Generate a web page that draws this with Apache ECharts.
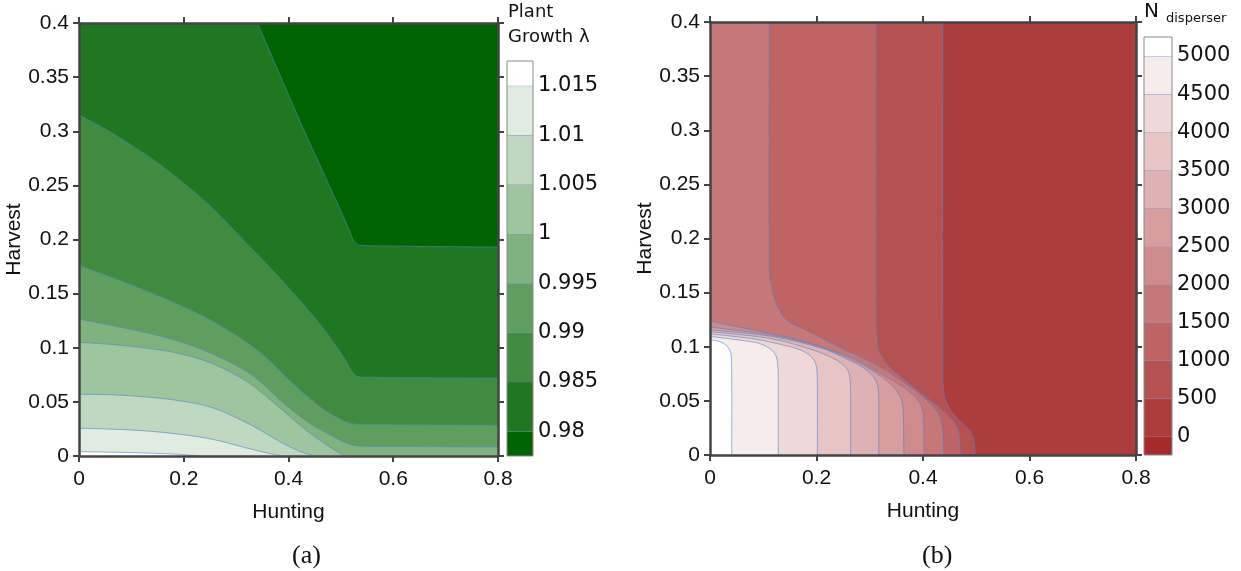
<!DOCTYPE html>
<html><head><meta charset="utf-8">
<script src="https://cdn.jsdelivr.net/npm/echarts@6/dist/echarts.min.js"></script>
<style>html,body{margin:0;padding:0;background:#fff}#c{width:1241px;height:571px}</style>
</head><body><div id="c"></div>
<script>
// ---------- data ----------
const huntingTicks = [0, 0.2, 0.4, 0.6, 0.8];
const harvestTicks = [0, 0.05, 0.1, 0.15, 0.2, 0.25, 0.3, 0.35, 0.4];

const growthLevels = [0.98, 0.985, 0.99, 0.995, 1, 1.005, 1.01, 1.015];
const growthLabels = ['0.98', '0.985', '0.99', '0.995', '1', '1.005', '1.01', '1.015'];
const disperserLevels = [0, 500, 1000, 1500, 2000, 2500, 3000, 3500, 4000, 4500, 5000];
const disperserLabels = ['0', '500', '1000', '1500', '2000', '2500', '3000', '3500', '4000', '4500', '5000'];

// contour lines of plant growth lambda, [hunting, harvest]
const growth0980 = [[0.341,0.4],[0.38,0.356],[0.423,0.308],[0.47,0.258],[0.505,0.221],[0.518,0.206],[0.526,0.198],[0.536,0.1948],[0.56,0.1942],[0.8,0.193]];
const growth0985 = [[0,0.315],[0.05,0.302],[0.105,0.2855],[0.15,0.2707],[0.188,0.2566],[0.23,0.2398],[0.264,0.2245],[0.289,0.212],[0.323,0.195],[0.356,0.1785],[0.385,0.1634],[0.413,0.1483],[0.442,0.1323],[0.47,0.1155],[0.495,0.0985],[0.51,0.0875],[0.52,0.079],[0.53,0.0738],[0.55,0.0727],[0.8,0.0718]];
const growth0990 = [[0,0.176],[0.063,0.165],[0.127,0.153],[0.19,0.14],[0.254,0.125],[0.317,0.106],[0.35,0.094],[0.381,0.08],[0.413,0.065],[0.444,0.052],[0.47,0.042],[0.495,0.035],[0.512,0.031],[0.527,0.0295],[0.55,0.029],[0.8,0.0285]];
const growth0995 = [[0,0.1265],[0.063,0.1205],[0.127,0.114],[0.19,0.106],[0.254,0.0945],[0.317,0.079],[0.35,0.067],[0.381,0.053],[0.413,0.04],[0.444,0.029],[0.483,0.0185],[0.508,0.0125],[0.525,0.0098],[0.55,0.009],[0.8,0.0085]];
const growth1000 = [[0,0.105],[0.063,0.103],[0.127,0.0997],[0.19,0.0948],[0.254,0.0855],[0.317,0.07],[0.35,0.058],[0.381,0.0455],[0.413,0.032],[0.444,0.02],[0.475,0.0095],[0.495,0.0035],[0.506,0]];
const growth1005 = [[0,0.0571],[0.063,0.0565],[0.127,0.0546],[0.19,0.0512],[0.254,0.0448],[0.317,0.0315],[0.35,0.0228],[0.381,0.014],[0.419,0.0048],[0.45,0]];
const growth1010 = [[0,0.0256],[0.063,0.0248],[0.127,0.0232],[0.19,0.0202],[0.254,0.0155],[0.317,0.0078],[0.36,0.0027],[0.388,0]];
const growth1015 = [[0,0.004],[0.095,0.0032],[0.19,0.0016],[0.23,0]];

// contour lines of disperser abundance, [hunting, harvest]
const disp0500 = [[0.437,0.4],[0.437,0.075],[0.438,0.062],[0.441,0.0534],[0.448,0.045],[0.457,0.038],[0.47,0.031],[0.482,0.0257],[0.491,0.02],[0.4955,0.013],[0.4975,0.005],[0.498,0]];
const disp1000 = [[0.312,0.4],[0.312,0.125],[0.313,0.11],[0.316,0.0996],[0.322,0.091],[0.332,0.0843],[0.346,0.077],[0.363,0.0705],[0.382,0.0625],[0.40,0.0555],[0.418,0.049],[0.432,0.043],[0.446,0.037],[0.457,0.031],[0.464,0.026],[0.468,0.019],[0.4695,0.008],[0.47,0]];
const disp1500 = [[0.111,0.4],[0.111,0.18],[0.112,0.166],[0.116,0.154],[0.122,0.143],[0.13,0.134],[0.141,0.126],[0.155,0.121],[0.166,0.1185],[0.19,0.113],[0.21,0.1078],[0.254,0.097],[0.3,0.0865],[0.338,0.0755],[0.376,0.063],[0.395,0.056],[0.41,0.0495],[0.425,0.041],[0.433,0.033],[0.437,0.024],[0.438,0.01],[0.4385,0]];
const disp2000 = [[0,0.1237],[0.05,0.1185],[0.116,0.112],[0.178,0.1045],[0.241,0.0945],[0.27,0.089],[0.3,0.081],[0.33,0.0725],[0.36,0.0635],[0.38,0.056],[0.393,0.049],[0.399,0.042],[0.401,0.032],[0.402,0]];
const disp2500 = [[0,0.1181],[0.116,0.1107],[0.2,0.101],[0.241,0.0935],[0.275,0.086],[0.3,0.0795],[0.323,0.072],[0.342,0.064],[0.355,0.056],[0.361,0.048],[0.363,0.038],[0.364,0]];
const disp3000 = [[0,0.1156],[0.116,0.1095],[0.21,0.0985],[0.26,0.088],[0.285,0.0815],[0.302,0.075],[0.312,0.068],[0.316,0.06],[0.317,0.05],[0.317,0]];
const disp3500 = [[0,0.1138],[0.116,0.1074],[0.19,0.0975],[0.22,0.092],[0.24,0.087],[0.253,0.082],[0.26,0.077],[0.263,0.07],[0.264,0.06],[0.264,0]];
const disp4000 = [[0,0.1119],[0.085,0.107],[0.147,0.1005],[0.17,0.097],[0.185,0.093],[0.195,0.088],[0.2,0.081],[0.2015,0.072],[0.2016,0]];
const disp4500 = [[0,0.1095],[0.085,0.104],[0.105,0.1005],[0.117,0.0965],[0.124,0.0915],[0.127,0.084],[0.128,0.075],[0.128,0]];
const disp5000 = [[0,0.1064],[0.015,0.1053],[0.026,0.103],[0.034,0.0995],[0.039,0.0945],[0.0405,0.088],[0.0407,0]];

const growthLines = [growth0980, growth0985, growth0990, growth0995, growth1000, growth1005, growth1010, growth1015];
const disperserLines = [disp0500, disp1000, disp1500, disp2000, disp2500, disp3000, disp3500, disp4000, disp4500, disp5000];

// ---------- styles ----------
const greenBands = ['#006400','#207720','#408b40','#609e60','#80b280','#9fc59f','#bfd8bf','#dfecdf','#ffffff'];
const redBands = ['#a52a2a','#ad3d3d','#b55151','#be6464','#c67878','#ce8b8b','#d69e9e','#deb2b2','#e7c5c5','#efd8d8','#f7ecec','#ffffff'];
const lineColor = 'rgba(80,130,205,0.6)';
const axisColor = '#444';
const SMOOTH = 0.35;
const XMIN = huntingTicks[0], XMAX = huntingTicks[huntingTicks.length - 1];
const YMIN = harvestTicks[0], YMAX = harvestTicks[harvestTicks.length - 1];
const CBA = [0.9775, 1.0175];
const CBB = [-240, 5250];

// corners are doubled so the smoothing keeps them sharp
function regionPolygon(b) {
  const poly = [];
  const add2 = p => { poly.push(p); poly.push(p); };
  add2([XMIN, YMIN]);
  if (b[0][0] > XMIN) add2([XMIN, b[0][1]]);
  add2(b[0]);
  for (let i = 1; i < b.length - 1; i++) poly.push(b[i]);
  const last = b[b.length - 1];
  add2(last);
  if (last[1] > YMIN) add2([last[0], YMIN]);
  return poly;
}

function contourRender(lines, fills) {
  return function (params, api) {
    const b = lines[params.dataIndex];
    return {
      type: 'group',
      children: [
        { type: 'polygon', shape: { points: regionPolygon(b).map(p => api.coord(p)), smooth: SMOOTH },
          style: { fill: fills[params.dataIndex] } },
        { type: 'polyline', shape: { points: b.map(p => api.coord(p)), smooth: SMOOTH },
          style: { stroke: lineColor, lineWidth: 1, fill: null } }
      ]
    };
  };
}

function colorbarRender(levels, colors, ext) {
  return function (params, api) {
    const i = params.dataIndex;
    const lo = i === 0 ? ext[0] : levels[i - 1];
    const hi = i === levels.length ? ext[1] : levels[i];
    const p0 = api.coord([0, lo]), p1 = api.coord([1, hi]);
    const children = [{ type: 'rect', shape: { x: p0[0], y: p1[1], width: p1[0] - p0[0], height: p0[1] - p1[1] }, style: { fill: colors[i] } }];
    if (i < levels.length) children.push({ type: 'line', shape: { x1: p0[0], y1: p1[1], x2: p1[0], y2: p1[1] }, style: { stroke: lineColor, lineWidth: 1 } });
    return { type: 'group', children };
  };
}

function frameRender(ext) {
  return function (params, api) {
    const p0 = api.coord([0, ext[0]]), p1 = api.coord([1, ext[1]]);
    return { type: 'rect', shape: { x: p0[0], y: p1[1], width: p1[0] - p0[0], height: p0[1] - p1[1] }, style: { fill: null, stroke: '#8a8a8a', lineWidth: 1 } };
  };
}

const tickFont = { fontFamily: 'Liberation Sans', fontSize: 21, color: '#111' };
const nameFont = { fontFamily: 'Liberation Sans', fontSize: 21, color: '#111' };
function mainX(gridIndex, pos, labels) {
  return {
    gridIndex, position: pos, type: 'value', min: XMIN, max: XMAX, interval: huntingTicks[1] - huntingTicks[0], z: 10,
    name: labels ? 'Hunting' : '', nameLocation: 'middle', nameGap: 46, nameTextStyle: nameFont,
    axisLine: { show: true, onZero: false, lineStyle: { color: axisColor, width: 2.5 } },
    axisTick: { show: true, inside: false, length: 6, lineStyle: { color: axisColor, width: 2 } },
    axisLabel: Object.assign({ show: labels, margin: 13 }, tickFont),
    splitLine: { show: false }
  };
}
function mainY(gridIndex, pos, labels) {
  return {
    gridIndex, position: pos, type: 'value', min: YMIN, max: YMAX, interval: harvestTicks[1] - harvestTicks[0], z: 10,
    name: labels ? 'Harvest' : '', nameLocation: 'middle', nameGap: 41, nameTextStyle: nameFont,
    axisLine: { show: true, onZero: false, lineStyle: { color: axisColor, width: 2.5 } },
    axisTick: { show: true, inside: false, length: 6, lineStyle: { color: axisColor, width: 2 } },
    axisLabel: Object.assign({ show: labels, margin: 10 }, tickFont),
    splitLine: { show: false }
  };
}
function cbarX(gridIndex) {
  return { gridIndex, type: 'value', min: 0, max: 1, show: false };
}
function cbarY(gridIndex, ext, levels, labels) {
  return {
    gridIndex, type: 'value', position: 'right', min: ext[0], max: ext[1],
    axisLine: { show: false }, axisTick: { show: false }, splitLine: { show: false },
    axisLabel: {
      show: true, margin: 5, fontFamily: 'DejaVu Sans', fontSize: 21, color: '#111',
      customValues: levels,
      formatter: v => { const k = levels.findIndex(l => Math.abs(l - v) < 1e-9); return k >= 0 ? labels[k] : ''; }
    }
  };
}

const chart = echarts.init(document.getElementById('c'), null, { renderer: 'canvas' });
chart.setOption({
  animation: false,
  backgroundColor: '#ffffff',
  grid: [
    { left: 79, top: 23, width: 419, height: 433, show: true, backgroundColor: greenBands[0], borderWidth: 0 },
    { left: 710, top: 22, width: 426, height: 433, show: true, backgroundColor: redBands[1], borderWidth: 0 },
    { left: 507, top: 61, width: 26, height: 395 },
    { left: 1144, top: 37, width: 28, height: 418 }
  ],
  xAxis: [mainX(0, 'bottom', true), mainX(0, 'top', false), mainX(1, 'bottom', true), mainX(1, 'top', false), cbarX(2), cbarX(3)],
  yAxis: [mainY(0, 'left', true), mainY(0, 'right', false), mainY(1, 'left', true), mainY(1, 'right', false),
          cbarY(2, CBA, growthLevels, growthLabels), cbarY(3, CBB, disperserLevels, disperserLabels)],
  series: [
    { type: 'custom', xAxisIndex: 0, yAxisIndex: 0, clip: true, z: 2, data: growthLines.map((_, i) => i),
      renderItem: contourRender(growthLines, greenBands.slice(1)) },
    { type: 'custom', xAxisIndex: 2, yAxisIndex: 2, clip: true, z: 2, data: disperserLines.map((_, i) => i),
      renderItem: contourRender(disperserLines, redBands.slice(2)) },
    { type: 'custom', xAxisIndex: 4, yAxisIndex: 4, z: 2, data: greenBands.map((_, i) => i),
      renderItem: colorbarRender(growthLevels, greenBands, CBA) },
    { type: 'custom', xAxisIndex: 4, yAxisIndex: 4, z: 3, data: [0], renderItem: frameRender(CBA) },
    { type: 'custom', xAxisIndex: 5, yAxisIndex: 5, z: 2, data: redBands.map((_, i) => i),
      renderItem: colorbarRender(disperserLevels, redBands, CBB) },
    { type: 'custom', xAxisIndex: 5, yAxisIndex: 5, z: 3, data: [0], renderItem: frameRender(CBB) }
  ],
  graphic: [
    { type: 'text', left: 508, top: 3, style: { text: 'Plant', font: '18px "DejaVu Sans"', fill: '#111' } },
    { type: 'text', left: 508, top: 28, style: { text: 'Growth λ', font: '18px "DejaVu Sans"', fill: '#111' } },
    { type: 'text', left: 1144, top: 2, style: { text: 'N', font: '20px "DejaVu Sans"', fill: '#111' } },
    { type: 'text', left: 1166, top: 12, style: { text: 'disperser', font: '13px "DejaVu Sans"', fill: '#111' } },
    { type: 'text', left: 292, top: 543, style: { text: '(a)', font: '26px "Liberation Serif"', fill: '#111' } },
    { type: 'text', left: 922, top: 543, style: { text: '(b)', font: '26px "Liberation Serif"', fill: '#111' } }
  ]
});
</script></body></html>
